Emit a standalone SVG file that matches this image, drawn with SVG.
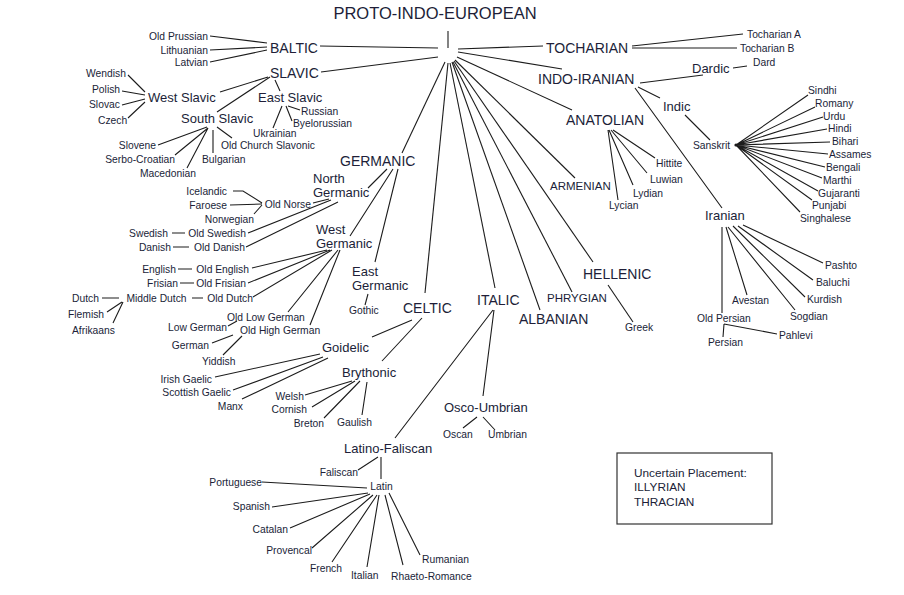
<svg xmlns="http://www.w3.org/2000/svg" width="904" height="595" viewBox="0 0 904 595">
<style>
text{font-family:"Liberation Sans",Arial,sans-serif;fill:#201e38}
.t0{font-size:16.5px}
.t1{font-size:14px}
.t1s{font-size:11.5px}
.t2{font-size:13px}
.t3{font-size:10.3px}
.tb{font-size:11.8px}
.e{text-anchor:end}
.m{text-anchor:middle}
#connectors path{fill:none;stroke:#1c1c1c;stroke-width:1.1}
.box{fill:none;stroke:#333;stroke-width:1.2}
</style>
<rect width="904" height="595" fill="#fff"/>
<g id="connectors">
<path d="M448,31V48"/>
<path d="M438,48L320,46"/>
<path d="M438,57L321,72"/>
<path d="M458,49L543,46"/>
<path d="M458,52L562,69"/>
<path d="M457,57L572,110"/>
<path d="M455,60L575,178"/>
<path d="M454,61L593,262"/>
<path d="M453,62L572,292"/>
<path d="M452,62L540,310"/>
<path d="M450,63L495,288"/>
<path d="M448,63L425,293"/>
<path d="M445,62L402,153"/>
<path d="M210,36L267,43M210,50L267,47M210,62L267,50"/>
<path d="M220,92L268,77M217,112L270,77M275,80L280,91"/>
<path d="M128,75L145,92M122,91L145,95M122,105L145,99M128,118L145,102"/>
<path d="M288,106L300,110M286,106L292,121M282,106L273,128"/>
<path d="M207,127L158,145M208,128L175,155M208,128L187,168M213,130V153M217,127L232,138"/>
<path d="M632,46L743,34M632,48L737,48"/>
<path d="M640,83L703,75M733,68L747,66M638,87L660,98M635,88L722,208M685,115L710,140"/>
<path d="M736,145L808,95M736,145L815,107M736,145L823,117M736,145L827,129M736,145L830,142M736,145L828,154M736,145L825,167M736,145L822,178M736,145L818,191M736,145L812,200M736,145L800,212"/>
<path d="M722,227V313M726,227L747,295M728,227L795,310M733,226L805,297M738,226L813,280M743,225L823,263M724,324L723,337M724,324L777,334"/>
<path d="M608,130L618,200M609,130L633,185M611,130L647,173M613,130L655,158"/>
<path d="M608,285L633,322"/>
<path d="M387,169L368,188M393,169L350,236M398,169L375,262"/>
<path d="M313,203L329,199M248,233L331,200M246,247L338,202"/>
<path d="M233,191L243,191L262,203M230,205L262,204M254,214L262,205"/>
<path d="M172,233H185M173,247H189"/>
<path d="M252,268L327,250M248,283L330,250M253,297L332,250M288,312L338,250M310,325L340,250"/>
<path d="M178,269H192M180,283H194M102,298H119M192,298H203"/>
<path d="M107,312L122,302M113,323L123,302"/>
<path d="M228,326L237,321M212,343L233,335M223,355L242,336"/>
<path d="M368,294L365,305"/>
<path d="M412,320L372,337M422,318L382,361"/>
<path d="M215,377L320,354M233,390L323,357M242,399L328,358"/>
<path d="M305,395L352,381M312,407L355,381M324,418L360,381M362,415L367,382"/>
<path d="M493,310L395,438M494,310L483,396"/>
<path d="M463,428L477,417M483,417L495,430"/>
<path d="M358,470L378,457M381,457V479"/>
<path d="M262,482L367,488M272,507L368,493M290,528L370,494M312,548L373,495M332,562L377,495M367,567L379,495M403,565L385,495M420,555L389,493"/>
</g>
<circle cx="736" cy="145" r="1.6" fill="#1c1c1c"/>
<g id="pie"><text class="t0 m" x="435" y="18.5">PROTO-INDO-EUROPEAN</text></g>
<g id="baltic"><text class="t1" x="270" y="53">BALTIC</text></g>
<g id="old-prussian"><text class="t3 e" x="208" y="40">Old Prussian</text></g>
<g id="lithuanian"><text class="t3 e" x="208" y="54">Lithuanian</text></g>
<g id="latvian"><text class="t3 e" x="208" y="65.7">Latvian</text></g>
<g id="slavic"><text class="t1" x="270" y="78">SLAVIC</text></g>
<g id="west-slavic"><text class="t2" x="148" y="102">West Slavic</text></g>
<g id="wendish"><text class="t3" x="86" y="76.7">Wendish</text></g>
<g id="polish"><text class="t3" x="92" y="93.3">Polish</text></g>
<g id="slovac"><text class="t3" x="89" y="108.3">Slovac</text></g>
<g id="czech"><text class="t3" x="98" y="124">Czech</text></g>
<g id="east-slavic"><text class="t2" x="258" y="102">East Slavic</text></g>
<g id="russian"><text class="t3" x="301" y="115">Russian</text></g>
<g id="byelorussian"><text class="t3" x="293" y="127.3">Byelorussian</text></g>
<g id="ukrainian"><text class="t3" x="253" y="136.7">Ukrainian</text></g>
<g id="south-slavic"><text class="t2" x="181" y="123">South Slavic</text></g>
<g id="slovene"><text class="t3 e" x="156" y="149">Slovene</text></g>
<g id="serbo-croatian"><text class="t3 e" x="175" y="163">Serbo-Croatian</text></g>
<g id="macedonian"><text class="t3 e" x="196" y="176.7">Macedonian</text></g>
<g id="bulgarian"><text class="t3" x="202" y="163">Bulgarian</text></g>
<g id="old-church-slavonic"><text class="t3" x="221" y="149">Old Church Slavonic</text></g>
<g id="tocharian"><text class="t1" x="546" y="53">TOCHARIAN</text></g>
<g id="tocharian-a"><text class="t3" x="747" y="38">Tocharian A</text></g>
<g id="tocharian-b"><text class="t3" x="740" y="52">Tocharian B</text></g>
<g id="indo-iranian"><text class="t1" x="538" y="84">INDO-IRANIAN</text></g>
<g id="dardic"><text class="t2" x="692" y="73">Dardic</text></g>
<g id="dard"><text class="t3" x="753" y="66">Dard</text></g>
<g id="indic"><text class="t2" x="663" y="111">Indic</text></g>
<g id="sanskrit"><text class="t3" x="693" y="149">Sanskrit</text></g>
<g id="sindhi"><text class="t3" x="808" y="94">Sindhi</text></g>
<g id="romany"><text class="t3" x="815" y="107">Romany</text></g>
<g id="urdu"><text class="t3" x="823" y="119.5">Urdu</text></g>
<g id="hindi"><text class="t3" x="828" y="132">Hindi</text></g>
<g id="bihari"><text class="t3" x="832" y="145">Bihari</text></g>
<g id="assames"><text class="t3" x="829" y="158">Assames</text></g>
<g id="bengali"><text class="t3" x="826" y="170.7">Bengali</text></g>
<g id="marthi"><text class="t3" x="823" y="184">Marthi</text></g>
<g id="gujaranti"><text class="t3" x="818" y="196.7">Gujaranti</text></g>
<g id="punjabi"><text class="t3" x="812" y="209">Punjabi</text></g>
<g id="singhalese"><text class="t3" x="800" y="222">Singhalese</text></g>
<g id="iranian"><text class="t2" x="705" y="220">Iranian</text></g>
<g id="pashto"><text class="t3" x="825" y="269">Pashto</text></g>
<g id="baluchi"><text class="t3" x="816" y="286">Baluchi</text></g>
<g id="kurdish"><text class="t3" x="807" y="303.3">Kurdish</text></g>
<g id="sogdian"><text class="t3" x="790" y="320">Sogdian</text></g>
<g id="avestan"><text class="t3" x="732" y="304">Avestan</text></g>
<g id="old-persian"><text class="t3" x="697" y="322.3">Old Persian</text></g>
<g id="persian"><text class="t3" x="708" y="345.7">Persian</text></g>
<g id="pahlevi"><text class="t3" x="779" y="339">Pahlevi</text></g>
<g id="anatolian"><text class="t1" x="566" y="125">ANATOLIAN</text></g>
<g id="hittite"><text class="t3" x="656" y="167.3">Hittite</text></g>
<g id="luwian"><text class="t3" x="650" y="183.3">Luwian</text></g>
<g id="lydian"><text class="t3" x="633" y="197">Lydian</text></g>
<g id="lycian"><text class="t3" x="609" y="208.5">Lycian</text></g>
<g id="armenian"><text class="t1s" x="550" y="189.5">ARMENIAN</text></g>
<g id="hellenic"><text class="t1" x="583" y="279">HELLENIC</text></g>
<g id="greek"><text class="t3" x="625" y="331">Greek</text></g>
<g id="phrygian"><text class="t1s" x="547" y="302">PHRYGIAN</text></g>
<g id="albanian"><text class="t1" x="519" y="324">ALBANIAN</text></g>
<g id="germanic"><text class="t1" x="340" y="166">GERMANIC</text></g>
<g id="north-germanic"><text class="t2" x="313" y="183">North</text><text class="t2" x="313" y="197">Germanic</text></g>
<g id="old-norse"><text class="t3 e" x="311" y="208.3">Old Norse</text></g>
<g id="icelandic"><text class="t3 e" x="227" y="195">Icelandic</text></g>
<g id="faroese"><text class="t3 e" x="227" y="209">Faroese</text></g>
<g id="norwegian"><text class="t3 e" x="254" y="223.3">Norwegian</text></g>
<g id="old-swedish"><text class="t3 e" x="246" y="237.3">Old Swedish</text></g>
<g id="swedish"><text class="t3 e" x="168" y="237.3">Swedish</text></g>
<g id="old-danish"><text class="t3 e" x="245" y="251">Old Danish</text></g>
<g id="danish"><text class="t3 e" x="171" y="251">Danish</text></g>
<g id="west-germanic"><text class="t2" x="316" y="234">West</text><text class="t2" x="316" y="248">Germanic</text></g>
<g id="old-english"><text class="t3 e" x="249" y="273">Old English</text></g>
<g id="english"><text class="t3 e" x="176" y="273">English</text></g>
<g id="old-frisian"><text class="t3 e" x="246" y="287">Old Frisian</text></g>
<g id="frisian"><text class="t3 e" x="178" y="287">Frisian</text></g>
<g id="old-dutch"><text class="t3 e" x="253" y="301.7">Old Dutch</text></g>
<g id="middle-dutch"><text class="t3 m" x="156.5" y="301.7">Middle Dutch</text></g>
<g id="dutch"><text class="t3 e" x="99" y="301.7">Dutch</text></g>
<g id="flemish"><text class="t3" x="68" y="318.3">Flemish</text></g>
<g id="afrikaans"><text class="t3" x="72" y="334">Afrikaans</text></g>
<g id="old-low-german"><text class="t3" x="227" y="321">Old Low German</text></g>
<g id="low-german"><text class="t3 e" x="227" y="331">Low German</text></g>
<g id="old-high-german"><text class="t3" x="240" y="334.3">Old High German</text></g>
<g id="german"><text class="t3 e" x="209" y="349">German</text></g>
<g id="yiddish"><text class="t3" x="202" y="365">Yiddish</text></g>
<g id="east-germanic"><text class="t2" x="352" y="276">East</text><text class="t2" x="352" y="290">Germanic</text></g>
<g id="gothic"><text class="t3" x="349" y="314">Gothic</text></g>
<g id="celtic"><text class="t1" x="403" y="313">CELTIC</text></g>
<g id="goidelic"><text class="t2" x="322" y="351.7">Goidelic</text></g>
<g id="irish-gaelic"><text class="t3 e" x="212" y="382.7">Irish Gaelic</text></g>
<g id="scottish-gaelic"><text class="t3 e" x="231" y="396">Scottish Gaelic</text></g>
<g id="manx"><text class="t3 e" x="243" y="410">Manx</text></g>
<g id="brythonic"><text class="t2" x="342" y="376.7">Brythonic</text></g>
<g id="welsh"><text class="t3 e" x="304" y="400">Welsh</text></g>
<g id="cornish"><text class="t3 e" x="307" y="413.3">Cornish</text></g>
<g id="breton"><text class="t3 e" x="324" y="426.7">Breton</text></g>
<g id="gaulish"><text class="t3" x="337" y="425.7">Gaulish</text></g>
<g id="italic"><text class="t1" x="477" y="305">ITALIC</text></g>
<g id="osco-umbrian"><text class="t2" x="444" y="411.7">Osco-Umbrian</text></g>
<g id="oscan"><text class="t3" x="443" y="438.3">Oscan</text></g>
<g id="umbrian"><text class="t3" x="488" y="438.3">Umbrian</text></g>
<g id="latino-faliscan"><text class="t2" x="344" y="453.3">Latino-Faliscan</text></g>
<g id="faliscan"><text class="t3 e" x="358" y="476">Faliscan</text></g>
<g id="latin"><text class="t3 m" x="381.5" y="490">Latin</text></g>
<g id="portuguese"><text class="t3 e" x="262" y="485.7">Portuguese</text></g>
<g id="spanish"><text class="t3 e" x="270" y="510">Spanish</text></g>
<g id="catalan"><text class="t3 e" x="288" y="533.3">Catalan</text></g>
<g id="provencal"><text class="t3 e" x="312" y="554.3">Provencal</text></g>
<g id="french"><text class="t3 e" x="342" y="572.3">French</text></g>
<g id="italian"><text class="t3" x="351" y="579">Italian</text></g>
<g id="rhaeto-romance"><text class="t3" x="391" y="580">Rhaeto-Romance</text></g>
<g id="rumanian"><text class="t3" x="422" y="563.3">Rumanian</text></g>
<g id="uncertain">
<rect class="box" x="617" y="453" width="155" height="71"/>
<text class="tb" x="634" y="476.7">Uncertain Placement:</text>
<text class="tb" x="634" y="491">ILLYRIAN</text>
<text class="tb" x="634" y="506">THRACIAN</text>
</g>
</svg>
